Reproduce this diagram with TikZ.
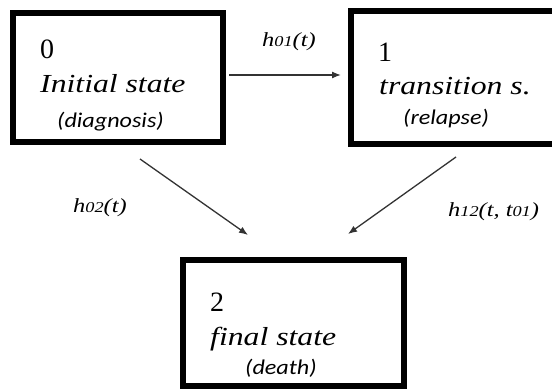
\documentclass[tikz,border=0pt]{standalone}
\usepackage{fontspec}
\setmainfont{Liberation Serif}
\newfontfamily\wideserif{Liberation Serif}[FakeStretch=1.22]
\newfontfamily\capfont{Carlito}[FakeStretch=1.15]
\usetikzlibrary{arrows.meta}
\begin{document}
\begin{tikzpicture}[x=1pt,y=-1pt,
  statebox/.style={draw=black,line width=6pt,outer sep=0pt,inner sep=0pt,fill=white},
  numtxt/.style={anchor=base west,inner sep=0pt,font=\fontsize{28}{30}\selectfont},
  nametxt/.style={anchor=base west,inner sep=0pt,font=\wideserif\fontsize{26}{28}\selectfont\itshape},
  subtxt/.style={anchor=base west,inner sep=0pt,font=\capfont\fontsize{21}{23}\selectfont\itshape},
  ratetxt/.style={anchor=base west,inner sep=0pt,font=\wideserif\fontsize{20}{22}\selectfont\itshape},
  arr/.style={draw=black!80,line width=1.3pt,-{Latex[length=9pt,width=7pt]}}]
\useasboundingbox[fill=white] (0,0) rectangle (552,390);
\node[statebox,minimum width=210pt,minimum height=129pt] (b0) at (118,77.5) {};
\node[statebox,minimum width=205pt,minimum height=133pt] (b1) at (453.5,77.5) {};
\node[statebox,minimum width=221pt,minimum height=126pt] (b2) at (293.5,323) {};
\node[numtxt] (n0) at (40,59) {0};
\node[nametxt] (t0) at (40,93) {Initial state};
\node[subtxt] (s0) at (57,128) {(diagnosis)};
\node[numtxt] (n1) at (378,62) {1};
\node[nametxt] (t1) at (379,95) {transition s.};
\node[subtxt] (s1) at (403,125) {(relapse)};
\node[numtxt] (n2) at (210,312) {2};
\node[nametxt] (t2) at (210,345) {final state};
\node[subtxt] (s2) at (245,374) {(death)};
\newcommand{\sbx}[1]{{\fontsize{15}{15}\selectfont #1}}
\node[ratetxt] (r01) at (262,47) {h\sbx{01}(t)};
\node[ratetxt] (r02) at (73,213) {h\sbx{02}(t)};
\node[ratetxt] (r12) at (448,217) {h\sbx{12}(t, t\sbx{01})};
\draw[arr,shorten <=6pt,shorten >=10pt] ([yshift=2.5]b0.east) -- ([yshift=2.5]b1.west);
\draw[arr] ([shift={(22,17)}]b0.south) -- ([shift={(-45.5,-25)}]b2.north);
\draw[arr] ([shift={(2.5,13)}]b1.south) -- ([shift={(54.5,-26)}]b2.north);
\end{tikzpicture}
\end{document}
